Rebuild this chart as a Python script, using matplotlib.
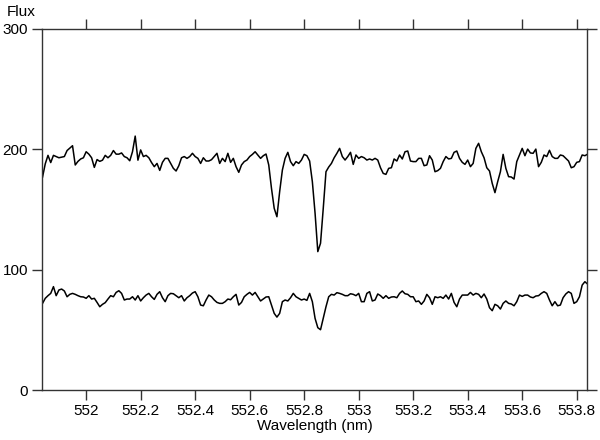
import matplotlib
matplotlib.use('Agg')
import matplotlib.pyplot as plt
import numpy as np

plt.rcParams['font.family'] = ['Liberation Sans', 'DejaVu Sans']

# wavelength grid of the spectra (nm), 0.01 nm steps
wave_start = 551.84
wave_step = 0.01

# upper spectrum (flux)
flux_top = [177, 188, 195, 189, 195, 194,
            193, 193.5, 194, 199, 201, 203, 187, 190, 192, 193,
            198, 196, 193, 185, 191.5, 190, 191, 195, 193, 195,
            199, 196, 196, 197, 194, 193, 190.5, 198, 211, 191,
            199.5, 194, 195, 193, 189, 185.6, 188.3, 182.5, 189.2, 192.5,
            192.5, 188.3, 184.2, 182, 186.4, 193, 194, 192.5, 194, 196.7,
            194, 192.5, 188.3, 193, 190.3, 190.3, 191.4, 194, 196.7, 188.3,
            192.5, 189.8, 196.7, 189.2, 192.5, 185.6, 180.9, 187, 189.8, 191.1,
            194, 195.8, 198, 195.3, 192.5, 194.7, 196.1, 187, 167.6, 151,
            144, 164.8, 182.8, 192.5, 197.5, 189.8, 186.4, 189.8, 188.3, 191.1,
            195.8, 194.7, 190.3, 173.1, 146.8, 115, 122, 151, 181.4, 185.3,
            188.3, 193, 196.7, 200.8, 194, 191.1, 194, 197.5, 187.5, 195.3,
            192.5, 194, 193, 191.1, 192, 191.1, 192.5, 191.1, 184.7, 180,
            179.2, 184.2, 184.7, 192, 190.3, 195.3, 192, 198, 198.6, 190.3,
            189.8, 189.8, 192.5, 192.5, 186.4, 187, 194.7, 191.1, 181.4, 182.3,
            184.2, 189.8, 194, 192, 192.5, 197.5, 198.6, 192.5, 189.2, 187.5,
            191.1, 185.6, 188.3, 200.8, 205, 198, 193, 184.7, 182, 171.7,
            164, 173.1, 181.4, 195.8, 184.2, 177.3, 177, 175.3, 189.8, 195.3,
            200.8, 194.7, 200.2, 197, 196.7, 200.2, 185.6, 189.2, 195.3, 194,
            199.2, 194, 192.5, 192.5, 195.3, 194.7, 192.5, 190.3, 184.7, 185.6,
            189.2, 189.8, 195.3, 194.7, 196]

# lower spectrum (flux)
flux_bottom = [72, 76.2, 78.4, 80.3, 85.9, 78.4,
               83.1, 83.9, 82.3, 77.5, 79.5, 80.3, 79.5, 78.4, 77.5, 77.3,
               76.2, 78.4, 75.6, 76.2, 72.8, 69.2, 71.2, 72.6, 75.6, 78.4,
               77.5, 81.1, 82.5, 80.3, 74.8, 75.6, 75.6, 77.5, 74.8, 78.4,
               74, 76.7, 78.9, 80.3, 77.5, 75.3, 79.5, 81.7, 76.7, 73.4,
               78.4, 80.3, 80, 78.4, 76.7, 78.4, 74, 76.7, 78.4, 80.6,
               81.7, 77.5, 70.6, 70, 74.8, 78.9, 77.5, 74.8, 72.8, 72,
               72, 73.4, 75.6, 75, 77.5, 79.5, 70.6, 72.8, 77.5, 79.5,
               81.1, 78.9, 81.1, 77.5, 74, 75.6, 77.3, 77.5, 70.6, 63.7,
               60.6, 63.7, 73.4, 74.8, 74, 76.7, 80.3, 77.5, 76.2, 74.8,
               75.6, 74.5, 80.3, 73.4, 59.5, 51.8, 50.1, 59.5, 69.2, 77.5,
               79.5, 78.9, 80.9, 80.3, 79.5, 78.4, 78.4, 80, 79.5, 78.4,
               80.3, 73.4, 73.4, 80.3, 81.7, 74, 74.8, 79.8, 78.4, 76.2,
               78.4, 76.2, 77.3, 77.5, 76.7, 80.3, 82.3, 80, 79.5, 77.5,
               77.5, 73.4, 74, 71.2, 74, 79.5, 76.7, 71.2, 77.5, 76.7,
               77.5, 76.2, 78.9, 75.6, 80.3, 72.8, 69.2, 75.6, 78.9, 78.9,
               78.9, 81.1, 78.9, 80.3, 79.5, 76.7, 79.8, 75.6, 68.4, 65.9,
               71.2, 70, 67.3, 72, 74, 72, 71.5, 70, 73.4, 78.9,
               77.8, 78.9, 78.9, 77.3, 76.7, 78.1, 78.4, 80.3, 81.7, 80.3,
               74.8, 70, 73.4, 70, 70.6, 76.7, 79.8, 81.7, 80.3, 72,
               73.4, 77.5, 87.2, 90, 88]

xticks = [552, 552.2, 552.4, 552.6, 552.8, 553, 553.2, 553.4, 553.6, 553.8]
xtick_labels = ['552', '552.2', '552.4', '552.6', '552.8', '553',
                '553.2', '553.4', '553.6', '553.8']
yticks = [0, 100, 200, 300]

wave = wave_start + wave_step * np.arange(len(flux_top))

fig = plt.figure(figsize=(6, 4.4), dpi=100)
ax = fig.add_axes([0.07, 0.1136, 0.908, 0.8205])

ax.plot(wave, flux_top, color='black', lw=1.1)
ax.plot(wave, flux_bottom, color='black', lw=1.1)

ax.set_xlim(551.838, 553.837)
ax.set_ylim(0, 300)
ax.set_xticks(xticks)
ax.set_xticklabels(xtick_labels)
ax.set_yticks(yticks)

for s in ax.spines.values():
    s.set_color('#333333')
    s.set_linewidth(1.0)

ax.tick_params(direction='out', length=7, width=1, color='#333333',
               labelsize=11, top=True, right=True, pad=3)

ax.set_xlabel('Wavelength (nm)', fontsize=11, labelpad=1)
fig.text(21 / 600, 1 - 12 / 440, 'Flux', ha='center', va='center', fontsize=11)

fig.savefig('out.png', dpi=100)
